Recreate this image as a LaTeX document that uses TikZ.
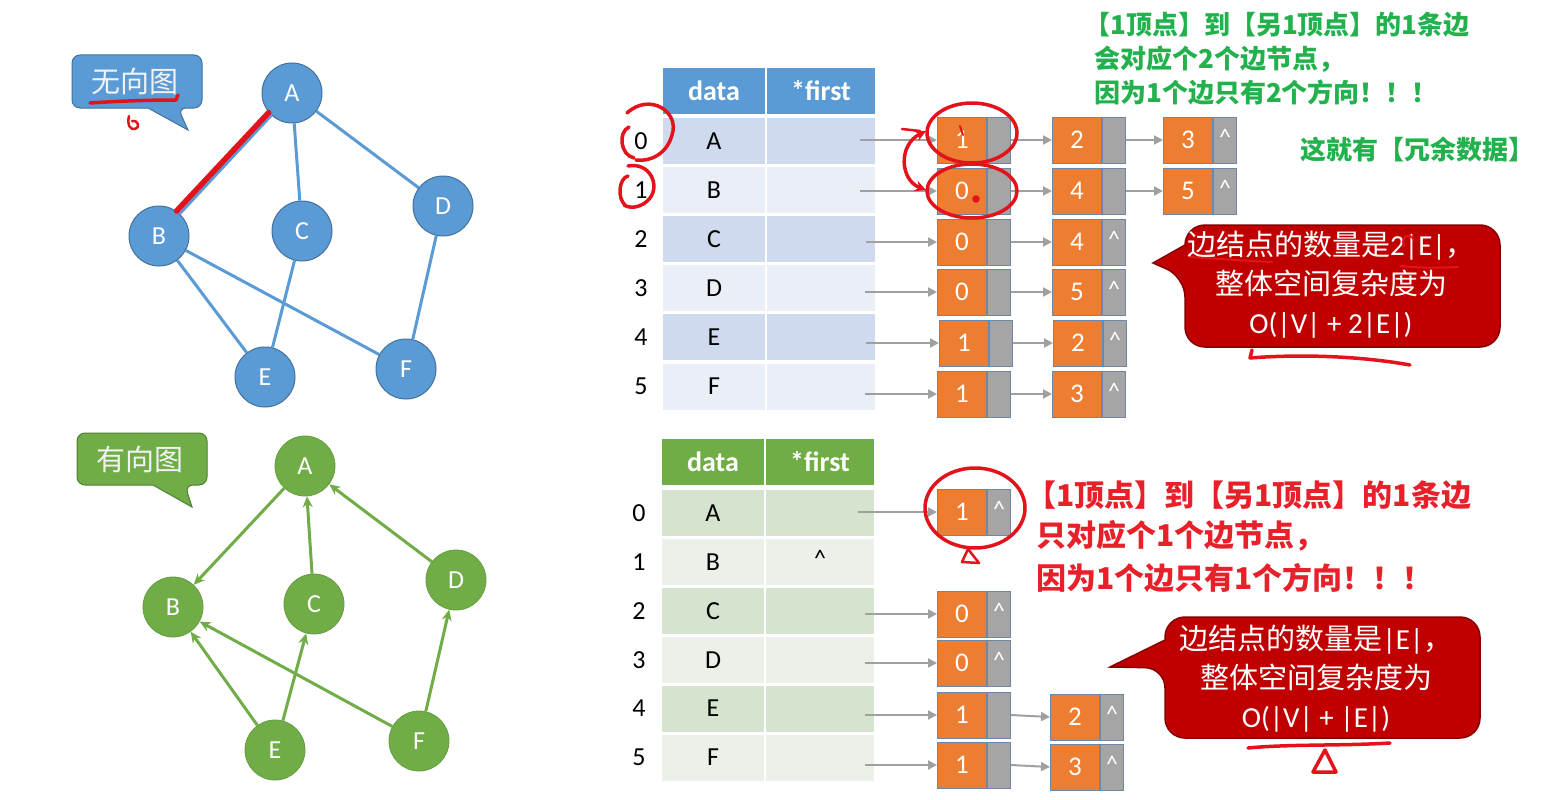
\documentclass[tikz,border=0pt]{standalone}
\usepackage{fontspec}
\setmainfont{Carlito}
\newfontfamily\cjk{Noto Sans CJK SC}
\usetikzlibrary{arrows.meta}
\definecolor{nblue}{HTML}{5B9BD5}
\definecolor{nblued}{HTML}{41719C}
\definecolor{ngreen}{HTML}{70AD47}
\definecolor{ngreend}{HTML}{4E7F30}
\definecolor{eorange}{HTML}{ED7D31}
\definecolor{egray}{HTML}{A5A5A5}
\definecolor{eborder}{HTML}{6D87A8}
\definecolor{tbA}{HTML}{CFDAEE}
\definecolor{tbB}{HTML}{E9EEF7}
\definecolor{tgA}{HTML}{D5E3CF}
\definecolor{tgB}{HTML}{EBF0E9}
\definecolor{pen}{HTML}{E3131B}
\definecolor{callred}{HTML}{C00000}
\definecolor{txgreen}{RGB}{34,177,76}
\definecolor{txred}{HTML}{E8202A}
\definecolor{arrgray}{HTML}{A0A0A0}
\newcommand\ptrnull{\raisebox{5pt}{\fontsize{24}{24}\selectfont\textasciicircum}}
\newcommand\ednode[5]{%
  \node[obox, anchor=west] (#1o) at (#2,#3) {#4};
  \node[gbox, anchor=west] (#1) at (#1o.east) {#5};}
\tikzset{
  vb/.style={circle, fill=nblue, draw=nblued, line width=1pt, minimum size=60, inner sep=0, text=white, font=\fontsize{26}{26}\selectfont},
  vg/.style={circle, fill=ngreen, draw=ngreen!90!black, line width=0.8pt, minimum size=60, inner sep=0, text=white, font=\fontsize{26}{26}\selectfont},
  ue/.style={draw=nblue, line width=3pt},
  de/.style={draw=ngreen, line width=3pt, -{Stealth[length=11pt,width=10pt]}},
  obox/.style={rectangle, fill=eorange, draw=eborder, line width=1pt, minimum width=49, minimum height=46, inner sep=0, text=white, font=\fontsize{27}{27}\selectfont},
  gbox/.style={rectangle, fill=egray, draw=eborder, line width=1pt, minimum width=23, minimum height=46, inner sep=0, text=white},
  parrow/.style={draw=arrgray, line width=2pt, -{Triangle[length=9pt,width=9pt]}},
  dcell/.style={rectangle, minimum width=102, minimum height=46, inner sep=0, font=\fontsize{26}{26}\selectfont},
  fcell/.style={rectangle, minimum width=108, minimum height=46, inner sep=0, font=\fontsize{26}{26}\selectfont},
  idx/.style={inner sep=0, font=\fontsize{26}{26}\selectfont},
  hdr/.style={text=white, font=\fontsize{28}{28}\selectfont\bfseries},
  pen/.style={draw=pen, line width=3.5pt, line cap=round, line join=round},
  gtxt/.style={inner sep=0, text=txgreen, font=\fontsize{26}{26}\selectfont\cjk\bfseries},
  rtxt/.style={inner sep=0, text=txred, font=\fontsize{30}{30}\selectfont\cjk\bfseries},
  ctxt/.style={inner sep=0, text=white, align=center, font=\fontsize{29}{39}\selectfont},
}
\begin{document}
\begin{tikzpicture}[x=1pt,y=-1pt]
\fill[white] (0,0) rectangle (1548,800);
\useasboundingbox (0,0) rectangle (1548,800);

% ---------- undirected graph ----------
\draw[fill=nblue, draw=nblued, line width=1pt, rounded corners=8] (72,55) -- (202,55) -- (202,108) -- (178,108) [sharp corners] -- (188,130) -- (148,108) [rounded corners=8] -- (72,108) -- cycle;
\node[inner sep=0, text=white!95!black, font=\fontsize{29}{29}\selectfont\cjk] (lu) at (135,81) {无向图};

\node[vb] (uA) at (292,93) {A};
\node[vb] (uB) at (159,236) {B};
\node[vb] (uC) at (302,231) {C};
\node[vb] (uD) at (443,206) {D};
\node[vb] (uE) at (265,377) {E};
\node[vb] (uF) at (406,369) {F};
\draw[ue] (uA) -- (uB);
\draw[ue] (uA) -- (uC);
\draw[ue] (uA) -- (uD);
\draw[ue] (uB) -- (uE);
\draw[ue] (uB) -- (uF);
\draw[ue] (uC) -- (uE);
\draw[ue] (uD) -- (uF);
\draw[pen, line width=5.5pt] (uA.-140) -- (uB.55);

% ---------- directed graph ----------
\draw[fill=ngreen, draw=ngreend, line width=1pt, rounded corners=8] (77,433) -- (207,433) -- (207,485) -- (185,485) [sharp corners] -- (192,507) -- (153,485) [rounded corners=8] -- (77,485) -- cycle;
\node[inner sep=0, text=white!95!black, font=\fontsize{29}{29}\selectfont\cjk] (ld) at (140,459) {有向图};

\node[vg] (gA) at (305,466) {A};
\node[vg] (gB) at (173,607) {B};
\node[vg] (gC) at (314,604) {C};
\node[vg] (gD) at (456,580) {D};
\node[vg] (gE) at (275,750) {E};
\node[vg] (gF) at (419,741) {F};
\draw[de] (gA) -- (gB);
\draw[de] (gC) -- (gA);
\draw[de] (gD) -- (gA);
\draw[de] (gE) -- (gB);
\draw[de] (gF) -- (gB);
\draw[de] (gE) -- (gC);
\draw[de] (gF) -- (gD);

% ---------- top table ----------
\node[dcell, fill=nblue, hdr] (thd) at (714,91) {data};
\node[fcell, fill=nblue, hdr] (thf) at (821,91) {*first};
\foreach \i/\L/\c in {0/A/tbA,1/B/tbB,2/C/tbA,3/D/tbB,4/E/tbA,5/F/tbB} {
  \pgfmathsetmacro\yy{141+49.1*\i}
  \node[dcell, fill=\c] (tdu\i) at (714,\yy) {\L};
  \node[fcell, fill=\c] (tfu\i) at (821,\yy) {};
  \node[idx] (tiu\i) at (641,\yy) {\i};
}

% top adjacency lists
\ednode{a0}{937}{140}{1}{}
\ednode{a1}{1052}{140}{2}{}
\ednode{a2}{1163}{140}{3}{\ptrnull}
\ednode{b0}{937}{191}{0}{}
\ednode{b1}{1052}{191}{4}{}
\ednode{b2}{1163}{191}{5}{\ptrnull}
\ednode{c0}{937}{242}{0}{}
\ednode{c1}{1052}{242}{4}{\ptrnull}
\ednode{d0}{937}{292}{0}{}
\ednode{d1}{1052}{292}{5}{\ptrnull}
\ednode{e0}{939}{343}{1}{}
\ednode{e1}{1053}{343}{2}{\ptrnull}
\ednode{f0}{937}{394}{1}{}
\ednode{f1}{1052}{394}{3}{\ptrnull}
\coordinate (sa) at (860,140);
\coordinate (sb) at (860,191);
\coordinate (sc) at (866,242);
\coordinate (sd) at (865,292);
\coordinate (se) at (866,343);
\coordinate (sf) at (865,394);
\draw[parrow] (sa) -- (a0o.west);
\draw[parrow] (sb) -- (b0o.west);
\draw[parrow] (sc) -- (c0o.west);
\draw[parrow] (sd) -- (d0o.west);
\draw[parrow] (se) -- (e0o.west);
\draw[parrow] (sf) -- (f0o.west);
\draw[parrow] (a0.east) -- (a1o.west);
\draw[parrow] (a1.east) -- (a2o.west);
\draw[parrow] (b0.east) -- (b1o.west);
\draw[parrow] (b1.east) -- (b2o.west);
\draw[parrow] (c0.east) -- (c1o.west);
\draw[parrow] (d0.east) -- (d1o.west);
\draw[parrow] (e0.east) -- (e1o.west);
\draw[parrow] (f0.east) -- (f1o.west);

% ---------- bottom table ----------
\node[dcell, fill=ngreen, hdr] (bhd) at (713,462) {data};
\node[fcell, fill=ngreen, hdr] (bhf) at (820,462) {*first};
\foreach \i/\L/\c in {0/A/tgA,1/B/tgB,2/C/tgA,3/D/tgB,4/E/tgA,5/F/tgB} {
  \pgfmathsetmacro\yy{513+48.9*\i}
  \node[dcell, fill=\c] (tdd\i) at (713,\yy) {\L};
  \node[fcell, fill=\c] (tfd\i) at (820,\yy) {};
  \node[idx] (tid\i) at (639,\yy) {\i};
}
\node[inner sep=0, font=\fontsize{24}{24}\selectfont] (bnull) at (820,558) {\textasciicircum};

\ednode{p0}{937}{512}{1}{\ptrnull}
\ednode{q0}{937}{614}{0}{\ptrnull}
\ednode{r0}{937}{663}{0}{\ptrnull}
\ednode{s0}{937}{715}{1}{}
\ednode{s1}{1050}{717}{2}{\ptrnull}
\ednode{t0}{937}{765}{1}{}
\ednode{t1}{1050}{767}{3}{\ptrnull}
\coordinate (sp) at (858,512);
\coordinate (sq) at (865,614);
\coordinate (sr) at (865,663);
\coordinate (ss) at (865,715);
\coordinate (st) at (865,765);
\draw[parrow] (sp) -- (p0o.west);
\draw[parrow] (sq) -- (q0o.west);
\draw[parrow] (sr) -- (r0o.west);
\draw[parrow] (ss) -- (s0o.west);
\draw[parrow] (st) -- (t0o.west);
\draw[parrow] (s0.east) -- (s1o.west);
\draw[parrow] (t0.east) -- (t1o.west);

% ---------- green notes ----------
\node[gtxt, anchor=west] (g1) at (1084,25) {【1顶点】到【另1顶点】的1条边};
\node[gtxt, anchor=west] (g2) at (1094,59) {会对应个2个边节点，};
\node[gtxt, anchor=west] (g3) at (1094,93) {因为1个边只有2个方向！！！};
\node[gtxt, anchor=west] (g4) at (1300,150) {这就有【冗余数据】};

% ---------- red notes ----------
\node[rtxt, anchor=west] (r1) at (1026,495) {【1顶点】到【另1顶点】的1条边};
\node[rtxt, anchor=west] (r2) at (1036,536) {只对应个1个边节点，};
\node[rtxt, anchor=west] (r3) at (1036,578) {因为1个边只有1个方向！！！};

% ---------- red callouts ----------
\draw[fill=callred, draw=callred!70!black, line width=1.5pt, rounded corners=20] (1340,225) -- (1500,225) -- (1500,347) -- (1185,347) -- (1185,277) [sharp corners] -- (1153,263) -- (1185,245) [rounded corners=20] -- (1185,225) -- cycle;
\node[ctxt] (cu) at (1331,285) {{\cjk 边结点的数量是}2|E|{\cjk ，}\\{\cjk 整体空间复杂度为}\\O(|V| + 2|E|)};

\draw[fill=callred, draw=callred!70!black, line width=1.5pt, rounded corners=20] (1320,617) -- (1480,617) -- (1480,738) -- (1165,738) -- (1165,668) [sharp corners] -- (1110,667) -- (1165,640) [rounded corners=20] -- (1165,617) -- cycle;
\node[ctxt] (cd) at (1316,679) {{\cjk 边结点的数量是}|E|{\cjk ，}\\{\cjk 整体空间复杂度为}\\O(|V| + |E|)};

% ---------- hand-drawn pen marks ----------
\draw[pen] (90,103) .. controls (120,101) and (150,100) .. (176,100) -- (178,95);
\draw[pen, line width=2.5pt] (129,116) .. controls (127,125) and (130,130) .. (135,129) .. controls (140,128) and (139,120) .. (132,121);
\draw[pen] (627,113) .. controls (650,92) and (680,112) .. (672,135) .. controls (667,154) and (650,162) .. (636,160);
\draw[pen] (629,127) .. controls (618,132) and (620,155) .. (634,158);
\draw[pen] (628,166) .. controls (650,162) and (660,185) .. (650,198) .. controls (644,206) and (632,210) .. (624,205);
\draw[pen] (628,176) .. controls (619,178) and (617,198) .. (625,205);
\draw[pen] (972,133) ellipse [x radius=45, y radius=30];
\draw[pen] (972,191) ellipse [x radius=45, y radius=27];
\draw[pen, {Stealth[length=11pt,width=11pt]}-{Stealth[length=11pt,width=11pt]}] (926,131) .. controls (898,145) and (900,180) .. (926,190);
\draw[pen, line width=2.5pt] (902,129) -- (920,131);
\draw[pen, line width=2pt] (960,126) -- (963,135);
\fill[pen] (976,199) circle [radius=2];
\draw[pen, line width=2pt] (1190,257) .. controls (1220,259) and (1250,261) .. (1272,262);
\draw[pen, line width=2pt] (1400,266) .. controls (1420,268) and (1440,268) .. (1458,267);
\draw[pen, line width=2pt] (1404,246) .. controls (1400,236) and (1410,232) .. (1414,240);
\draw[pen] (1252,350) -- (1250,358) .. controls (1300,354) and (1360,356) .. (1410,365);
\draw[pen] (975,508) ellipse [x radius=50, y radius=40];
\draw[pen, line width=2.5pt] (968,549) -- (962,562) -- (979,563) -- (968,549);
\draw[pen] (1248,748) .. controls (1290,744) and (1340,746) .. (1390,743);
\draw[pen] (1325,750) -- (1313,772) -- (1336,772) -- cycle;
\end{tikzpicture}
\end{document}
